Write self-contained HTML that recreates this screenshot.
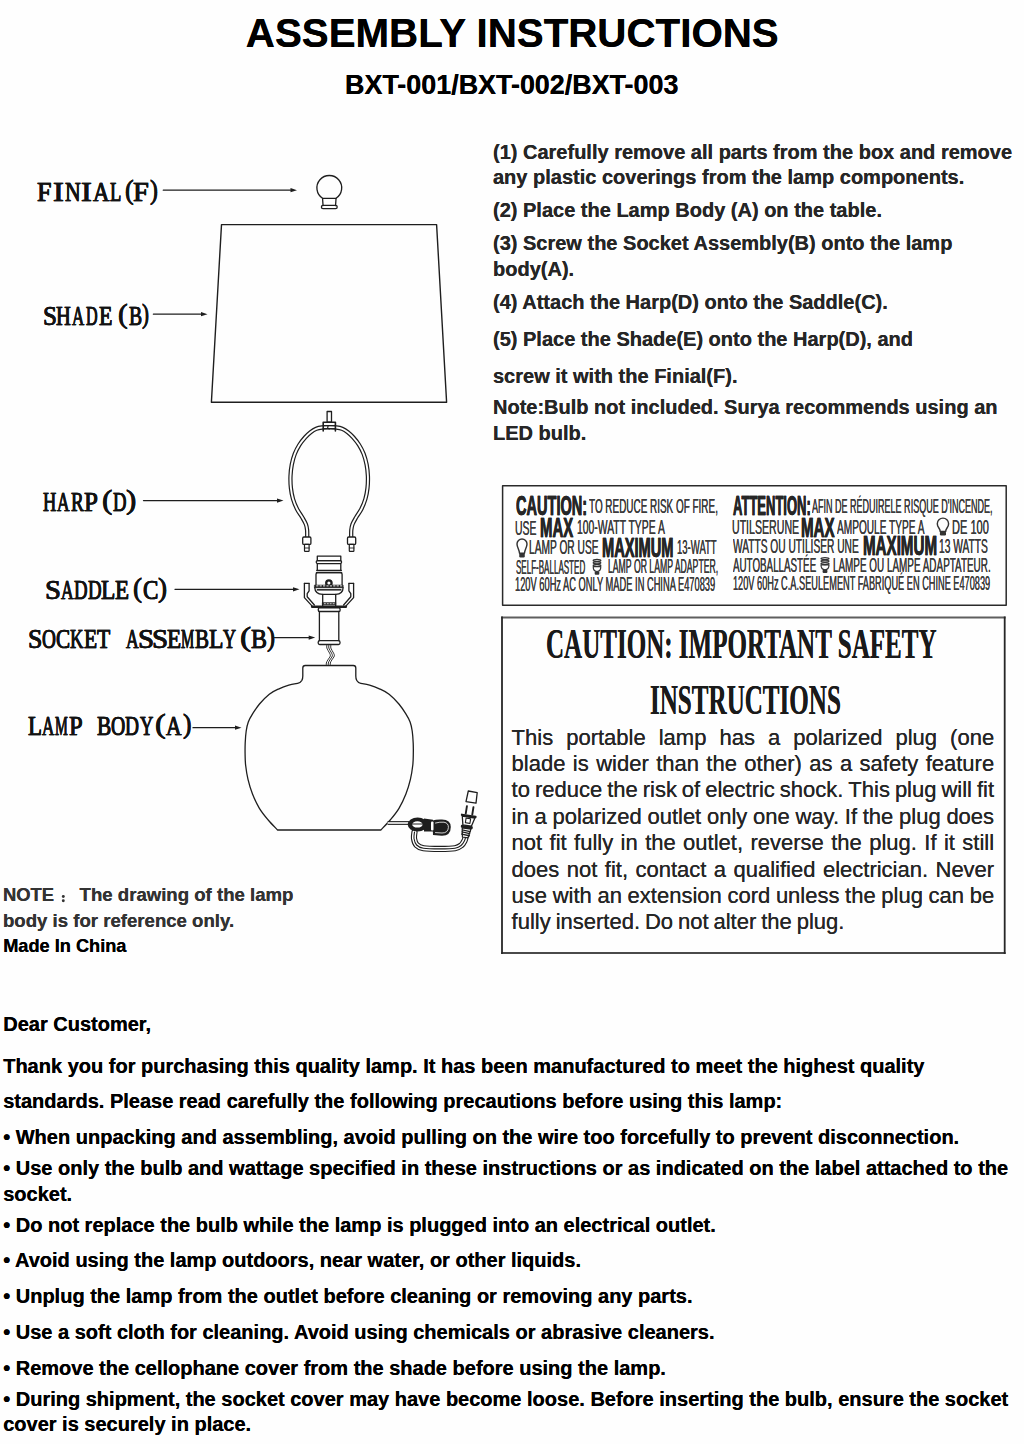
<!DOCTYPE html>
<html><head><meta charset="utf-8"><title>Assembly Instructions</title>
<style>
html,body{margin:0;padding:0;background:#fefefe;}
body{width:1024px;height:1444px;position:relative;overflow:hidden;}
.t,.m,.j{position:absolute;white-space:nowrap;}
.j{display:flex;justify-content:space-between;}
.m i{display:inline-flex;justify-content:center;font-style:normal;}
.m i b{display:inline-block;font-weight:inherit;}
svg{position:absolute;left:0;top:0;}
</style></head><body>
<svg width="1024" height="1444" viewBox="0 0 1024 1444" stroke-linecap="round" stroke-linejoin="round">
<line x1="163.3" y1="190.2" x2="293.0" y2="190.2" stroke="#1e1e1e" stroke-width="1.3" />
<path d="M290.5,188.1 L297.0,190.2 L290.5,192.29999999999998 Z" fill="#1e1e1e"/>
<line x1="153.4" y1="314.2" x2="203.5" y2="314.2" stroke="#1e1e1e" stroke-width="1.3" />
<path d="M201.0,312.09999999999997 L207.5,314.2 L201.0,316.3 Z" fill="#1e1e1e"/>
<line x1="143.5" y1="500.6" x2="279.5" y2="500.6" stroke="#1e1e1e" stroke-width="1.3" />
<path d="M277.0,498.5 L283.5,500.6 L277.0,502.70000000000005 Z" fill="#1e1e1e"/>
<line x1="175.0" y1="589.3" x2="295.5" y2="589.3" stroke="#1e1e1e" stroke-width="1.3" />
<path d="M293.0,587.1999999999999 L299.5,589.3 L293.0,591.4 Z" fill="#1e1e1e"/>
<line x1="274.5" y1="637.6" x2="311.2" y2="637.6" stroke="#1e1e1e" stroke-width="1.3" />
<path d="M308.7,635.5 L315.2,637.6 L308.7,639.7 Z" fill="#1e1e1e"/>
<line x1="193.0" y1="727.7" x2="237.5" y2="727.7" stroke="#1e1e1e" stroke-width="1.3" />
<path d="M235.0,725.6 L241.5,727.7 L235.0,729.8000000000001 Z" fill="#1e1e1e"/>
<path d="M322.55,198.3 A12.4,12.4 0 1,1 336.05,198.3 Z" stroke="#1e1e1e" stroke-width="1.3" fill="none" />
<path d="M322.55,198.3 L323.05,205.6 M336.05,198.3 L335.55,205.6" stroke="#1e1e1e" stroke-width="1.3" fill="none" />
<rect x="321.4" y="205.4" width="15.8" height="3.3" rx="1.6" stroke="#1e1e1e" stroke-width="1.3" fill="none"/>
<path d="M221.5,224.6 L436.6,224.6 L446.6,402.2 L211.4,402.2 Z" stroke="#1e1e1e" stroke-width="1.4" fill="none" />
<path d="M329.20,427.30 C328.00,427.33 324.17,427.25 322.00,427.50 C319.83,427.75 318.10,428.02 316.20,428.80 C314.30,429.58 312.43,430.78 310.60,432.20 C308.77,433.62 307.07,435.20 305.20,437.30 C303.33,439.40 301.13,442.05 299.40,444.80 C297.67,447.55 296.07,450.52 294.80,453.80 C293.53,457.08 292.52,460.80 291.80,464.50 C291.08,468.20 290.65,472.08 290.50,476.00 C290.35,479.92 290.48,484.17 290.90,488.00 C291.32,491.83 291.98,495.50 293.00,499.00 C294.02,502.50 295.45,505.92 297.00,509.00 C298.55,512.08 300.82,514.95 302.30,517.50 C303.78,520.05 305.10,522.22 305.90,524.30 C306.70,526.38 306.88,527.80 307.10,530.00 C307.32,532.20 307.18,536.25 307.20,537.50" stroke="#1e1e1e" stroke-width="4.3" fill="none" />
<path d="M329.20,427.30 C328.00,427.33 324.17,427.25 322.00,427.50 C319.83,427.75 318.10,428.02 316.20,428.80 C314.30,429.58 312.43,430.78 310.60,432.20 C308.77,433.62 307.07,435.20 305.20,437.30 C303.33,439.40 301.13,442.05 299.40,444.80 C297.67,447.55 296.07,450.52 294.80,453.80 C293.53,457.08 292.52,460.80 291.80,464.50 C291.08,468.20 290.65,472.08 290.50,476.00 C290.35,479.92 290.48,484.17 290.90,488.00 C291.32,491.83 291.98,495.50 293.00,499.00 C294.02,502.50 295.45,505.92 297.00,509.00 C298.55,512.08 300.82,514.95 302.30,517.50 C303.78,520.05 305.10,522.22 305.90,524.30 C306.70,526.38 306.88,527.80 307.10,530.00 C307.32,532.20 307.18,536.25 307.20,537.50" stroke="#fff" stroke-width="1.9" fill="none" />
<path d="M329.20,427.30 C330.40,427.33 334.23,427.25 336.40,427.50 C338.57,427.75 340.30,428.02 342.20,428.80 C344.10,429.58 345.97,430.78 347.80,432.20 C349.63,433.62 351.33,435.20 353.20,437.30 C355.07,439.40 357.27,442.05 359.00,444.80 C360.73,447.55 362.33,450.52 363.60,453.80 C364.87,457.08 365.88,460.80 366.60,464.50 C367.32,468.20 367.75,472.08 367.90,476.00 C368.05,479.92 367.92,484.17 367.50,488.00 C367.08,491.83 366.42,495.50 365.40,499.00 C364.38,502.50 362.95,505.92 361.40,509.00 C359.85,512.08 357.58,514.95 356.10,517.50 C354.62,520.05 353.30,522.22 352.50,524.30 C351.70,526.38 351.52,527.80 351.30,530.00 C351.08,532.20 351.22,536.25 351.20,537.50" stroke="#1e1e1e" stroke-width="4.3" fill="none" />
<path d="M329.20,427.30 C330.40,427.33 334.23,427.25 336.40,427.50 C338.57,427.75 340.30,428.02 342.20,428.80 C344.10,429.58 345.97,430.78 347.80,432.20 C349.63,433.62 351.33,435.20 353.20,437.30 C355.07,439.40 357.27,442.05 359.00,444.80 C360.73,447.55 362.33,450.52 363.60,453.80 C364.87,457.08 365.88,460.80 366.60,464.50 C367.32,468.20 367.75,472.08 367.90,476.00 C368.05,479.92 367.92,484.17 367.50,488.00 C367.08,491.83 366.42,495.50 365.40,499.00 C364.38,502.50 362.95,505.92 361.40,509.00 C359.85,512.08 357.58,514.95 356.10,517.50 C354.62,520.05 353.30,522.22 352.50,524.30 C351.70,526.38 351.52,527.80 351.30,530.00 C351.08,532.20 351.22,536.25 351.20,537.50" stroke="#fff" stroke-width="1.9" fill="none" />
<rect x="327.1" y="411.5" width="4.4" height="10.6" rx="0" stroke="#1e1e1e" stroke-width="1.3" fill="none"/>
<path d="M323.2,431 L323.2,422.3 L335.4,422.3 L335.4,431" stroke="#1e1e1e" stroke-width="1.6" fill="none" />
<line x1="323.2" y1="425.6" x2="335.4" y2="425.6" stroke="#1e1e1e" stroke-width="1.0" />
<line x1="323.2" y1="428.6" x2="335.4" y2="428.6" stroke="#1e1e1e" stroke-width="1.0" />
<rect x="302.7" y="537.0" width="8.2" height="7.4" rx="1.2" stroke="#1e1e1e" stroke-width="1.3" fill="#fff"/>
<rect x="304.5" y="544.4" width="4.6" height="6.9" rx="0.6" stroke="#1e1e1e" stroke-width="1.2" fill="#fff"/>
<line x1="304.5" y1="548.0" x2="309.1" y2="548.0" stroke="#1e1e1e" stroke-width="0.9" />
<rect x="347.5" y="537.0" width="8.2" height="7.4" rx="1.2" stroke="#1e1e1e" stroke-width="1.3" fill="#fff"/>
<rect x="349.3" y="544.4" width="4.6" height="6.9" rx="0.6" stroke="#1e1e1e" stroke-width="1.2" fill="#fff"/>
<line x1="349.3" y1="548.0" x2="353.90000000000003" y2="548.0" stroke="#1e1e1e" stroke-width="0.9" />
<rect x="317.3" y="556.1" width="23.5" height="4.5" rx="0" stroke="#1e1e1e" stroke-width="1.3" fill="none"/>
<rect x="316.2" y="560.6" width="25.4" height="3.0" rx="1.5" stroke="#1e1e1e" stroke-width="1.3" fill="none"/>
<path d="M317.3,563.6 L317.3,570.4 M340.8,563.6 L340.8,570.4" stroke="#1e1e1e" stroke-width="1.3" fill="none" />
<line x1="316.8" y1="570.5" x2="341.3" y2="570.5" stroke="#1e1e1e" stroke-width="1.3" />
<line x1="316.4" y1="572.6" x2="341.7" y2="572.6" stroke="#1e1e1e" stroke-width="1.3" />
<path d="M316.0,585.3 L316.0,574.5 Q316.0,572.6 318,572.6 L340.2,572.6 Q342.1,572.6 342.1,574.5 L342.1,585.3" stroke="#1e1e1e" stroke-width="1.3" fill="none" />
<circle cx="328.9" cy="583.1" r="2.7" stroke="#1e1e1e" stroke-width="2.3" fill="#fff"/>
<rect x="314.8" y="585.2" width="28.3" height="2.5" rx="0" stroke="#1e1e1e" stroke-width="0.8" fill="#1e1e1e"/>
<line x1="316.6" y1="585.9" x2="318.0" y2="585.9" stroke="#fff" stroke-width="0.9" />
<line x1="320.0" y1="585.9" x2="321.4" y2="585.9" stroke="#fff" stroke-width="0.9" />
<line x1="323.40000000000003" y1="585.9" x2="324.8" y2="585.9" stroke="#fff" stroke-width="0.9" />
<line x1="326.8" y1="585.9" x2="328.2" y2="585.9" stroke="#fff" stroke-width="0.9" />
<line x1="330.20000000000005" y1="585.9" x2="331.6" y2="585.9" stroke="#fff" stroke-width="0.9" />
<line x1="333.6" y1="585.9" x2="335.0" y2="585.9" stroke="#fff" stroke-width="0.9" />
<line x1="337.0" y1="585.9" x2="338.4" y2="585.9" stroke="#fff" stroke-width="0.9" />
<line x1="340.40000000000003" y1="585.9" x2="341.8" y2="585.9" stroke="#fff" stroke-width="0.9" />
<path d="M314.8,587.7 Q315.0,593.9 322.6,594.4 L335.7,594.4 Q343.0,593.9 343.1,587.7" stroke="#1e1e1e" stroke-width="1.3" fill="none" />
<line x1="317.2" y1="589.6" x2="341.0" y2="589.6" stroke="#1e1e1e" stroke-width="1.0" />
<line x1="317.2" y1="590.4" x2="341.0" y2="590.4" stroke="#1e1e1e" stroke-width="0.6" />
<path d="M322.7,594.4 L322.7,606 M335.7,594.4 L335.7,606" stroke="#1e1e1e" stroke-width="1.3" fill="none" />
<rect x="322.7" y="602.6" width="13.0" height="2.3" rx="0" stroke="#1e1e1e" stroke-width="0.6" fill="#333"/>
<line x1="324.4" y1="603.7" x2="325.4" y2="603.7" stroke="#ddd" stroke-width="0.9" />
<line x1="327.29999999999995" y1="603.7" x2="328.29999999999995" y2="603.7" stroke="#ddd" stroke-width="0.9" />
<line x1="330.2" y1="603.7" x2="331.2" y2="603.7" stroke="#ddd" stroke-width="0.9" />
<line x1="333.09999999999997" y1="603.7" x2="334.09999999999997" y2="603.7" stroke="#ddd" stroke-width="0.9" />
<path d="M304.40,583.30 L304.40,597.60 L312.60,606.60" stroke="#1e1e1e" stroke-width="1.3" fill="none" />
<path d="M309.10,583.30 L309.10,590.80 L307.20,593.60 L307.20,596.80 L314.40,605.00" stroke="#1e1e1e" stroke-width="1.3" fill="none" />
<path d="M353.60,583.30 L353.60,597.60 L345.40,606.60" stroke="#1e1e1e" stroke-width="1.3" fill="none" />
<path d="M348.90,583.30 L348.90,590.80 L350.80,593.60 L350.80,596.80 L343.60,605.00" stroke="#1e1e1e" stroke-width="1.3" fill="none" />
<line x1="304.4" y1="583.3" x2="309.1" y2="583.3" stroke="#1e1e1e" stroke-width="1.3" />
<line x1="349.0" y1="583.3" x2="353.6" y2="583.3" stroke="#1e1e1e" stroke-width="1.3" />
<line x1="312.2" y1="606.7" x2="345.8" y2="606.7" stroke="#1e1e1e" stroke-width="2.6" />
<rect x="318.3" y="607.9" width="21.8" height="3.6" rx="1.2" stroke="#1e1e1e" stroke-width="1.3" fill="none"/>
<path d="M319.4,611.5 L319.4,640.7 M338.8,611.5 L338.8,640.7" stroke="#1e1e1e" stroke-width="1.3" fill="none" />
<rect x="318.2" y="640.7" width="21.8" height="3.8" rx="1.5" stroke="#1e1e1e" stroke-width="1.3" fill="none"/>
<path d="M327.00,644.50 C326.97,645.08 326.38,646.58 326.80,648.00 C327.22,649.42 328.92,651.67 329.50,653.00 C330.08,654.33 330.58,654.83 330.30,656.00 C330.02,657.17 328.47,658.83 327.80,660.00 C327.13,661.17 326.52,662.08 326.30,663.00 C326.08,663.92 326.47,665.08 326.50,665.50" stroke="#1e1e1e" stroke-width="0.9" fill="none" />
<path d="M329.00,644.50 C328.97,645.08 328.38,646.58 328.80,648.00 C329.22,649.42 330.92,651.67 331.50,653.00 C332.08,654.33 332.58,654.83 332.30,656.00 C332.02,657.17 330.47,658.83 329.80,660.00 C329.13,661.17 328.52,662.08 328.30,663.00 C328.08,663.92 328.47,665.08 328.50,665.50" stroke="#1e1e1e" stroke-width="0.9" fill="none" />
<path d="M331.00,644.50 C330.97,645.08 330.38,646.58 330.80,648.00 C331.22,649.42 332.92,651.67 333.50,653.00 C334.08,654.33 334.58,654.83 334.30,656.00 C334.02,657.17 332.47,658.83 331.80,660.00 C331.13,661.17 330.52,662.08 330.30,663.00 C330.08,663.92 330.47,665.08 330.50,665.50" stroke="#1e1e1e" stroke-width="0.9" fill="none" />
<path d="M277.6,830.0 C276.03,828.33 271.23,823.62 268.20,820.00 C265.17,816.38 262.02,812.63 259.40,808.30 C256.78,803.97 254.40,798.83 252.50,794.00 C250.60,789.17 249.15,784.13 248.00,779.30 C246.85,774.47 246.08,769.22 245.60,765.00 C245.12,760.78 245.17,757.67 245.10,754.00 C245.03,750.33 245.02,746.83 245.20,743.00 C245.38,739.17 245.68,734.50 246.20,731.00 C246.72,727.50 247.22,724.88 248.30,722.00 C249.38,719.12 250.83,716.70 252.70,713.70 C254.57,710.70 256.73,707.25 259.50,704.00 C262.27,700.75 266.05,696.73 269.30,694.20 C272.55,691.67 275.75,690.30 279.00,688.80 C282.25,687.30 285.70,686.10 288.80,685.20 C291.90,684.30 296.13,683.70 297.60,683.40 Q300.2,682.9 301.9,680.3 Q302.8,678.6 302.8,676 L302.8,668 Q302.8,665.5 305.3,665.5 L353.3,665.5 Q355.8,665.5 355.8,668 L355.8,676 Q355.8,678.6 356.7,680.3 Q358.4,682.9 360.8,683.4 C362.27,683.70 366.50,684.30 369.60,685.20 C372.70,686.10 376.15,687.30 379.40,688.80 C382.65,690.30 385.85,691.67 389.10,694.20 C392.35,696.73 396.13,700.75 398.90,704.00 C401.67,707.25 403.83,710.70 405.70,713.70 C407.57,716.70 409.02,719.12 410.10,722.00 C411.18,724.88 411.68,727.50 412.20,731.00 C412.72,734.50 413.02,739.17 413.20,743.00 C413.38,746.83 413.37,750.33 413.30,754.00 C413.23,757.67 413.28,760.78 412.80,765.00 C412.32,769.22 411.55,774.47 410.40,779.30 C409.25,784.13 407.80,789.17 405.90,794.00 C404.00,798.83 401.62,803.97 399.00,808.30 C396.38,812.63 393.23,816.38 390.20,820.00 C387.17,823.62 382.37,828.33 380.80,830.00 Z" stroke="#1e1e1e" stroke-width="1.3" fill="none" />
<path d="M387.6,823.0 L409,823.0" stroke="#1e1e1e" stroke-width="3.8" fill="none" stroke-linecap="butt"/>
<path d="M387.6,823.0 L409,823.0" stroke="#fff" stroke-width="1.6" fill="none" stroke-linecap="butt"/>
<path d="M414.50,832.00 C414.42,833.08 413.65,836.33 414.00,838.50 C414.35,840.67 415.02,843.38 416.60,845.00 C418.18,846.62 419.60,847.55 423.50,848.20 C427.40,848.85 434.75,848.90 440.00,848.90 C445.25,848.90 451.45,848.80 455.00,848.20 C458.55,847.60 459.70,846.58 461.30,845.30 C462.90,844.02 463.88,841.88 464.60,840.50 C465.32,839.12 465.43,837.58 465.60,837.00" stroke="#1e1e1e" stroke-width="6.2" fill="none" />
<path d="M414.50,832.00 C414.42,833.08 413.65,836.33 414.00,838.50 C414.35,840.67 415.02,843.38 416.60,845.00 C418.18,846.62 419.60,847.55 423.50,848.20 C427.40,848.85 434.75,848.90 440.00,848.90 C445.25,848.90 451.45,848.80 455.00,848.20 C458.55,847.60 459.70,846.58 461.30,845.30 C462.90,844.02 463.88,841.88 464.60,840.50 C465.32,839.12 465.43,837.58 465.60,837.00" stroke="#fff" stroke-width="4.0" fill="none" />
<path d="M414.50,832.00 C414.42,833.08 413.65,836.33 414.00,838.50 C414.35,840.67 415.02,843.38 416.60,845.00 C418.18,846.62 419.60,847.55 423.50,848.20 C427.40,848.85 434.75,848.90 440.00,848.90 C445.25,848.90 451.45,848.80 455.00,848.20 C458.55,847.60 459.70,846.58 461.30,845.30 C462.90,844.02 463.88,841.88 464.60,840.50 C465.32,839.12 465.43,837.58 465.60,837.00" stroke="#1e1e1e" stroke-width="1.1" fill="none" />
<ellipse cx="417.6" cy="824.5" rx="9.9" ry="7.1" fill="#1e1e1e"/>
<ellipse cx="417.4" cy="824.4" rx="5.2" ry="3.2" fill="#fff"/>
<line x1="411.5" y1="824.0" x2="423.5" y2="824.0" stroke="#1e1e1e" stroke-width="1.2" />
<path d="M424,818.6 L433,819.8 L433,831.5 L424,831.5 Z" stroke="none" stroke-width="0" fill="#1e1e1e" />
<path d="M432.5,820.5 Q436,819.4 442,819.6 Q450.8,820 450.8,827 Q450.8,835.8 442,835.8 L433,835 Z" stroke="none" stroke-width="0" fill="#1e1e1e" />
<path d="M435.5,823 Q440,821.8 444,822.2 Q448.6,823 448.4,827.5 Q448,833 442,833 L435.5,832.6" stroke="#fff" stroke-width="0.8" fill="none" />
<rect x="431.0" y="821.6" width="2.5" height="8.9" rx="1" stroke="none" stroke-width="0" fill="#fff"/>
<g transform="rotate(9 467.6 822)">
<path d="M463.20000000000005,828.6 L472.0,828.6 L470.40000000000003,837.6 L464.8,837.6 Z" stroke="#1e1e1e" stroke-width="1.2" fill="#fff" />
<line x1="463.6" y1="830.6" x2="471.5" y2="831.1" stroke="#1e1e1e" stroke-width="1.3" />
<line x1="463.6" y1="832.7" x2="471.5" y2="833.2" stroke="#1e1e1e" stroke-width="1.3" />
<line x1="463.6" y1="834.8" x2="471.5" y2="835.3" stroke="#1e1e1e" stroke-width="1.3" />
<rect x="461.6" y="825.6" width="12.0" height="2.9" rx="1.0" stroke="none" stroke-width="0" fill="#1e1e1e"/>
<path d="M461.40000000000003,816.9 L474.20000000000005,816.9 L472.0,825.6 L463.40000000000003,825.6 Z" stroke="#1e1e1e" stroke-width="1.3" fill="#fff" />
<rect x="465.5" y="818.4" width="4.6" height="4.6" rx="0" stroke="#1e1e1e" stroke-width="1.1" fill="#fff"/>
<rect x="459.8" y="814.6" width="15.9" height="2.4" rx="1.0" stroke="none" stroke-width="0" fill="#1e1e1e"/>
<rect x="463.5" y="805.6" width="1.9" height="9.2" rx="0.8" stroke="none" stroke-width="0" fill="#1e1e1e"/>
<rect x="470.1" y="805.6" width="1.9" height="9.2" rx="0.8" stroke="none" stroke-width="0" fill="#1e1e1e"/>
</g>
<path d="M468.3,791.0 L477.2,792.7 L476.0,803.1 L466.0,801.6 Z" stroke="#1e1e1e" stroke-width="1.3" fill="none" />
<circle cx="63.3" cy="896.5" r="1.45" fill="#333"/>
<circle cx="63.3" cy="900.7" r="1.45" fill="#333"/>
<rect x="502.6" y="485.8" width="503.6" height="119.4" rx="0" stroke="#2a2a2a" stroke-width="1.5" fill="none"/>
<line x1="501.2" y1="617.5" x2="1005.6" y2="617.5" stroke="#5e5e5e" stroke-width="2.2" stroke-linecap="butt"/>
<line x1="501.2" y1="953.0" x2="1005.6" y2="953.0" stroke="#4a4a4a" stroke-width="2.2" stroke-linecap="butt"/>
<line x1="502.0" y1="616.4" x2="502.0" y2="954.1" stroke="#262626" stroke-width="1.8" stroke-linecap="butt"/>
<line x1="1004.7" y1="616.4" x2="1004.7" y2="954.1" stroke="#262626" stroke-width="1.8" stroke-linecap="butt"/>
<path d="M519.54,553.30 C519.54,549.86 517.00,547.50 517.00,544.00 A5.00,5.00 0 1,1 527.00,544.00 C527.00,547.50 524.46,549.86 524.46,553.30 Z" stroke="#333" stroke-width="1.45" fill="none" />
<rect x="519.236" y="553.298" width="5.528" height="4.202" rx="1.2" stroke="none" stroke-width="0" fill="#333"/>
<path d="M940.20,531.46 C940.20,528.24 937.30,527.71 937.30,523.75 A5.65,5.65 0 1,1 948.60,523.75 C948.60,527.71 945.70,528.24 945.70,531.46 Z" stroke="#333" stroke-width="1.45" fill="none" />
<rect x="939.9000000000001" y="531.462" width="6.1" height="3.9379999999999997" rx="1.2" stroke="none" stroke-width="0" fill="#333"/>
<ellipse cx="597.00" cy="560.40" rx="3.86" ry="0.98" fill="none" stroke="#333" stroke-width="1.2"/>
<ellipse cx="597.00" cy="562.86" rx="3.86" ry="0.98" fill="none" stroke="#333" stroke-width="1.2"/>
<ellipse cx="597.00" cy="565.32" rx="3.86" ry="0.98" fill="none" stroke="#333" stroke-width="1.2"/>
<path d="M593.20,566.60 L600.80,566.60 C600.80,571.19 598.84,571.52 597.00,571.52 C595.16,571.52 593.20,571.19 593.20,566.60 Z" stroke="#333" stroke-width="1.2" fill="none" />
<rect x="594.7" y="571.52" width="4.6" height="3.28" rx="1" stroke="none" stroke-width="0" fill="#333"/>
<ellipse cx="825.00" cy="558.60" rx="4.03" ry="0.99" fill="none" stroke="#333" stroke-width="1.2"/>
<ellipse cx="825.00" cy="561.08" rx="4.03" ry="0.99" fill="none" stroke="#333" stroke-width="1.2"/>
<ellipse cx="825.00" cy="563.55" rx="4.03" ry="0.99" fill="none" stroke="#333" stroke-width="1.2"/>
<path d="M821.00,564.85 L829.00,564.85 C829.00,569.47 826.92,569.80 825.00,569.80 C823.08,569.80 821.00,569.47 821.00,564.85 Z" stroke="#333" stroke-width="1.2" fill="none" />
<rect x="822.6" y="569.8000000000001" width="4.8" height="3.3000000000000003" rx="1" stroke="none" stroke-width="0" fill="#333"/>
</svg>
<div class="t" style="left:245.82px;top:14.18px;font-size:40.3px;line-height:40.3px;font-family:'Liberation Sans';font-weight:bold;color:#000;">ASSEMBLY INSTRUCTIONS</div>
<div class="t" style="left:345.07px;top:71.62px;font-size:26.9px;line-height:26.9px;font-family:'Liberation Sans';font-weight:bold;color:#000;">BXT-001/BXT-002/BXT-003</div>
<div class="t" style="left:493.00px;top:142.27px;font-size:20px;line-height:20px;font-family:'Liberation Sans';font-weight:bold;color:#262626;">(1) Carefully remove all parts from the box and remove</div>
<div class="t" style="left:493.00px;top:167.07px;font-size:20px;line-height:20px;font-family:'Liberation Sans';font-weight:bold;color:#262626;">any plastic coverings from the lamp components.</div>
<div class="t" style="left:493.00px;top:200.47px;font-size:20px;line-height:20px;font-family:'Liberation Sans';font-weight:bold;color:#262626;">(2) Place the Lamp Body (A) on the table.</div>
<div class="t" style="left:493.00px;top:233.07px;font-size:20px;line-height:20px;font-family:'Liberation Sans';font-weight:bold;color:#262626;">(3) Screw the Socket Assembly(B) onto the lamp</div>
<div class="t" style="left:493.00px;top:258.57px;font-size:20px;line-height:20px;font-family:'Liberation Sans';font-weight:bold;color:#262626;">body(A).</div>
<div class="t" style="left:493.00px;top:291.87px;font-size:20px;line-height:20px;font-family:'Liberation Sans';font-weight:bold;color:#262626;">(4) Attach the Harp(D) onto the Saddle(C).</div>
<div class="t" style="left:493.00px;top:329.07px;font-size:20px;line-height:20px;font-family:'Liberation Sans';font-weight:bold;color:#262626;">(5) Place the Shade(E) onto the Harp(D), and</div>
<div class="t" style="left:493.00px;top:366.17px;font-size:20px;line-height:20px;font-family:'Liberation Sans';font-weight:bold;color:#262626;">screw it with the Finial(F).</div>
<div class="t" style="left:493.00px;top:397.27px;font-size:20px;line-height:20px;font-family:'Liberation Sans';font-weight:bold;color:#262626;">Note:Bulb not included. Surya recommends using an</div>
<div class="t" style="left:493.00px;top:423.27px;font-size:20px;line-height:20px;font-family:'Liberation Sans';font-weight:bold;color:#262626;">LED bulb.</div>
<div class="t" style="left:37.30px;top:178.15px;font-size:28px;line-height:28px;font-family:'Liberation Serif';font-weight:normal;color:#121212;transform:scaleX(0.9306);transform-origin:0 0;-webkit-text-stroke:0.65px #121212;">F</div>
<div class="t" style="left:52.88px;top:178.15px;font-size:28px;line-height:28px;font-family:'Liberation Serif';font-weight:normal;color:#121212;transform:scaleX(1.1599);transform-origin:0 0;-webkit-text-stroke:0.65px #121212;">I</div>
<div class="t" style="left:64.52px;top:178.15px;font-size:28px;line-height:28px;font-family:'Liberation Serif';font-weight:normal;color:#121212;transform:scaleX(0.7778);transform-origin:0 0;-webkit-text-stroke:0.65px #121212;">N</div>
<div class="t" style="left:80.58px;top:178.15px;font-size:28px;line-height:28px;font-family:'Liberation Serif';font-weight:normal;color:#121212;transform:scaleX(1.1599);transform-origin:0 0;-webkit-text-stroke:0.65px #121212;">I</div>
<div class="t" style="left:92.53px;top:178.15px;font-size:28px;line-height:28px;font-family:'Liberation Serif';font-weight:normal;color:#121212;transform:scaleX(0.8104);transform-origin:0 0;-webkit-text-stroke:0.65px #121212;">A</div>
<div class="t" style="left:109.51px;top:178.15px;font-size:28px;line-height:28px;font-family:'Liberation Serif';font-weight:normal;color:#121212;transform:scaleX(0.6637);transform-origin:0 0;-webkit-text-stroke:0.65px #121212;">L</div>
<div class="t" style="left:124.55px;top:176.15px;font-size:28px;line-height:28px;font-family:'Liberation Serif';font-weight:normal;color:#121212;transform:scaleX(0.9317);transform-origin:0 0;-webkit-text-stroke:0.5px #121212;">(</div>
<div class="t" style="left:133.23px;top:178.15px;font-size:28px;line-height:28px;font-family:'Liberation Serif';font-weight:normal;color:#121212;transform:scaleX(1.0179);transform-origin:0 0;-webkit-text-stroke:0.65px #121212;">F</div>
<div class="t" style="left:150.13px;top:176.15px;font-size:28px;line-height:28px;font-family:'Liberation Serif';font-weight:normal;color:#121212;transform:scaleX(0.8482);transform-origin:0 0;-webkit-text-stroke:0.5px #121212;">)</div>
<div class="t" style="left:42.77px;top:302.35px;font-size:28px;line-height:28px;font-family:'Liberation Serif';font-weight:normal;color:#121212;transform:scaleX(0.8944);transform-origin:0 0;-webkit-text-stroke:0.65px #121212;">S</div>
<div class="t" style="left:56.46px;top:302.35px;font-size:28px;line-height:28px;font-family:'Liberation Serif';font-weight:normal;color:#121212;transform:scaleX(0.7314);transform-origin:0 0;-webkit-text-stroke:0.65px #121212;">H</div>
<div class="t" style="left:72.09px;top:302.35px;font-size:28px;line-height:28px;font-family:'Liberation Serif';font-weight:normal;color:#121212;transform:scaleX(0.6028);transform-origin:0 0;-webkit-text-stroke:0.65px #121212;">A</div>
<div class="t" style="left:86.19px;top:302.35px;font-size:28px;line-height:28px;font-family:'Liberation Serif';font-weight:normal;color:#121212;transform:scaleX(0.5740);transform-origin:0 0;-webkit-text-stroke:0.65px #121212;">D</div>
<div class="t" style="left:98.72px;top:302.35px;font-size:28px;line-height:28px;font-family:'Liberation Serif';font-weight:normal;color:#121212;transform:scaleX(0.7851);transform-origin:0 0;-webkit-text-stroke:0.65px #121212;">E</div>
<div class="t" style="left:118.22px;top:300.35px;font-size:28px;line-height:28px;font-family:'Liberation Serif';font-weight:normal;color:#121212;transform:scaleX(1.0429);transform-origin:0 0;-webkit-text-stroke:0.5px #121212;">(</div>
<div class="t" style="left:128.98px;top:302.35px;font-size:28px;line-height:28px;font-family:'Liberation Serif';font-weight:normal;color:#121212;transform:scaleX(0.7029);transform-origin:0 0;-webkit-text-stroke:0.65px #121212;">B</div>
<div class="t" style="left:142.42px;top:300.35px;font-size:28px;line-height:28px;font-family:'Liberation Serif';font-weight:normal;color:#121212;transform:scaleX(0.7509);transform-origin:0 0;-webkit-text-stroke:0.5px #121212;">)</div>
<div class="t" style="left:43.22px;top:488.35px;font-size:28px;line-height:28px;font-family:'Liberation Serif';font-weight:normal;color:#121212;transform:scaleX(0.6561);transform-origin:0 0;-webkit-text-stroke:0.65px #121212;">H</div>
<div class="t" style="left:57.28px;top:488.35px;font-size:28px;line-height:28px;font-family:'Liberation Serif';font-weight:normal;color:#121212;transform:scaleX(0.6180);transform-origin:0 0;-webkit-text-stroke:0.65px #121212;">A</div>
<div class="t" style="left:70.60px;top:488.35px;font-size:28px;line-height:28px;font-family:'Liberation Serif';font-weight:normal;color:#121212;transform:scaleX(0.6843);transform-origin:0 0;-webkit-text-stroke:0.65px #121212;">R</div>
<div class="t" style="left:84.13px;top:488.35px;font-size:28px;line-height:28px;font-family:'Liberation Serif';font-weight:normal;color:#121212;transform:scaleX(0.8941);transform-origin:0 0;-webkit-text-stroke:0.65px #121212;">P</div>
<div class="t" style="left:102.33px;top:486.35px;font-size:28px;line-height:28px;font-family:'Liberation Serif';font-weight:normal;color:#121212;transform:scaleX(1.1124);transform-origin:0 0;-webkit-text-stroke:0.5px #121212;">(</div>
<div class="t" style="left:112.51px;top:488.35px;font-size:28px;line-height:28px;font-family:'Liberation Serif';font-weight:normal;color:#121212;transform:scaleX(0.6669);transform-origin:0 0;-webkit-text-stroke:0.65px #121212;">D</div>
<div class="t" style="left:126.10px;top:486.35px;font-size:28px;line-height:28px;font-family:'Liberation Serif';font-weight:normal;color:#121212;transform:scaleX(1.1124);transform-origin:0 0;-webkit-text-stroke:0.5px #121212;">)</div>
<div class="t" style="left:45.13px;top:576.45px;font-size:28px;line-height:28px;font-family:'Liberation Serif';font-weight:normal;color:#121212;transform:scaleX(1.0254);transform-origin:0 0;-webkit-text-stroke:0.65px #121212;">S</div>
<div class="t" style="left:60.65px;top:576.45px;font-size:28px;line-height:28px;font-family:'Liberation Serif';font-weight:normal;color:#121212;transform:scaleX(0.6213);transform-origin:0 0;-webkit-text-stroke:0.65px #121212;">A</div>
<div class="t" style="left:74.04px;top:576.45px;font-size:28px;line-height:28px;font-family:'Liberation Serif';font-weight:normal;color:#121212;transform:scaleX(0.6706);transform-origin:0 0;-webkit-text-stroke:0.65px #121212;">D</div>
<div class="t" style="left:87.81px;top:576.45px;font-size:28px;line-height:28px;font-family:'Liberation Serif';font-weight:normal;color:#121212;transform:scaleX(0.6706);transform-origin:0 0;-webkit-text-stroke:0.65px #121212;">D</div>
<div class="t" style="left:101.44px;top:576.45px;font-size:28px;line-height:28px;font-family:'Liberation Serif';font-weight:normal;color:#121212;transform:scaleX(0.8393);transform-origin:0 0;-webkit-text-stroke:0.65px #121212;">L</div>
<div class="t" style="left:115.22px;top:576.45px;font-size:28px;line-height:28px;font-family:'Liberation Serif';font-weight:normal;color:#121212;transform:scaleX(0.8231);transform-origin:0 0;-webkit-text-stroke:0.65px #121212;">E</div>
<div class="t" style="left:133.40px;top:574.45px;font-size:28px;line-height:28px;font-family:'Liberation Serif';font-weight:normal;color:#121212;transform:scaleX(0.9734);transform-origin:0 0;-webkit-text-stroke:0.5px #121212;">(</div>
<div class="t" style="left:142.90px;top:576.45px;font-size:28px;line-height:28px;font-family:'Liberation Serif';font-weight:normal;color:#121212;transform:scaleX(0.8259);transform-origin:0 0;-webkit-text-stroke:0.65px #121212;">C</div>
<div class="t" style="left:157.82px;top:574.45px;font-size:28px;line-height:28px;font-family:'Liberation Serif';font-weight:normal;color:#121212;transform:scaleX(0.9734);transform-origin:0 0;-webkit-text-stroke:0.5px #121212;">)</div>
<div class="t" style="left:27.73px;top:625.15px;font-size:28px;line-height:28px;font-family:'Liberation Serif';font-weight:normal;color:#121212;transform:scaleX(0.9195);transform-origin:0 0;-webkit-text-stroke:0.65px #121212;">S</div>
<div class="t" style="left:42.16px;top:625.15px;font-size:28px;line-height:28px;font-family:'Liberation Serif';font-weight:normal;color:#121212;transform:scaleX(0.6862);transform-origin:0 0;-webkit-text-stroke:0.65px #121212;">O</div>
<div class="t" style="left:55.88px;top:625.15px;font-size:28px;line-height:28px;font-family:'Liberation Serif';font-weight:normal;color:#121212;transform:scaleX(0.7571);transform-origin:0 0;-webkit-text-stroke:0.65px #121212;">C</div>
<div class="t" style="left:69.61px;top:625.15px;font-size:28px;line-height:28px;font-family:'Liberation Serif';font-weight:normal;color:#121212;transform:scaleX(0.6640);transform-origin:0 0;-webkit-text-stroke:0.65px #121212;">K</div>
<div class="t" style="left:83.73px;top:625.15px;font-size:28px;line-height:28px;font-family:'Liberation Serif';font-weight:normal;color:#121212;transform:scaleX(0.7717);transform-origin:0 0;-webkit-text-stroke:0.65px #121212;">E</div>
<div class="t" style="left:96.76px;top:625.15px;font-size:28px;line-height:28px;font-family:'Liberation Serif';font-weight:normal;color:#121212;transform:scaleX(0.7748);transform-origin:0 0;-webkit-text-stroke:0.65px #121212;">T</div>
<div class="t" style="left:126.08px;top:625.15px;font-size:28px;line-height:28px;font-family:'Liberation Serif';font-weight:normal;color:#121212;transform:scaleX(0.6262);transform-origin:0 0;-webkit-text-stroke:0.65px #121212;">A</div>
<div class="t" style="left:138.18px;top:625.15px;font-size:28px;line-height:28px;font-family:'Liberation Serif';font-weight:normal;color:#121212;transform:scaleX(1.0334);transform-origin:0 0;-webkit-text-stroke:0.65px #121212;">S</div>
<div class="t" style="left:152.04px;top:625.15px;font-size:28px;line-height:28px;font-family:'Liberation Serif';font-weight:normal;color:#121212;transform:scaleX(1.0334);transform-origin:0 0;-webkit-text-stroke:0.65px #121212;">S</div>
<div class="t" style="left:167.17px;top:625.15px;font-size:28px;line-height:28px;font-family:'Liberation Serif';font-weight:normal;color:#121212;transform:scaleX(0.8296);transform-origin:0 0;-webkit-text-stroke:0.65px #121212;">E</div>
<div class="t" style="left:181.27px;top:625.15px;font-size:28px;line-height:28px;font-family:'Liberation Serif';font-weight:normal;color:#121212;transform:scaleX(0.5313);transform-origin:0 0;-webkit-text-stroke:0.65px #121212;">M</div>
<div class="t" style="left:194.96px;top:625.15px;font-size:28px;line-height:28px;font-family:'Liberation Serif';font-weight:normal;color:#121212;transform:scaleX(0.7492);transform-origin:0 0;-webkit-text-stroke:0.65px #121212;">B</div>
<div class="t" style="left:208.74px;top:625.15px;font-size:28px;line-height:28px;font-family:'Liberation Serif';font-weight:normal;color:#121212;transform:scaleX(0.8459);transform-origin:0 0;-webkit-text-stroke:0.65px #121212;">L</div>
<div class="t" style="left:223.08px;top:625.15px;font-size:28px;line-height:28px;font-family:'Liberation Serif';font-weight:normal;color:#121212;transform:scaleX(0.6440);transform-origin:0 0;-webkit-text-stroke:0.65px #121212;">Y</div>
<div class="t" style="left:239.63px;top:623.15px;font-size:28px;line-height:28px;font-family:'Liberation Serif';font-weight:normal;color:#121212;transform:scaleX(1.1959);transform-origin:0 0;-webkit-text-stroke:0.5px #121212;">(</div>
<div class="t" style="left:250.96px;top:625.15px;font-size:28px;line-height:28px;font-family:'Liberation Serif';font-weight:normal;color:#121212;transform:scaleX(0.8544);transform-origin:0 0;-webkit-text-stroke:0.65px #121212;">B</div>
<div class="t" style="left:266.92px;top:623.15px;font-size:28px;line-height:28px;font-family:'Liberation Serif';font-weight:normal;color:#121212;transform:scaleX(0.8621);transform-origin:0 0;-webkit-text-stroke:0.5px #121212;">)</div>
<div class="t" style="left:28.29px;top:711.95px;font-size:28px;line-height:28px;font-family:'Liberation Serif';font-weight:normal;color:#121212;transform:scaleX(0.8194);transform-origin:0 0;-webkit-text-stroke:0.65px #121212;">L</div>
<div class="t" style="left:42.26px;top:711.95px;font-size:28px;line-height:28px;font-family:'Liberation Serif';font-weight:normal;color:#121212;transform:scaleX(0.6066);transform-origin:0 0;-webkit-text-stroke:0.65px #121212;">A</div>
<div class="t" style="left:55.48px;top:711.95px;font-size:28px;line-height:28px;font-family:'Liberation Serif';font-weight:normal;color:#121212;transform:scaleX(0.5146);transform-origin:0 0;-webkit-text-stroke:0.65px #121212;">M</div>
<div class="t" style="left:68.67px;top:711.95px;font-size:28px;line-height:28px;font-family:'Liberation Serif';font-weight:normal;color:#121212;transform:scaleX(0.8776);transform-origin:0 0;-webkit-text-stroke:0.65px #121212;">P</div>
<div class="t" style="left:97.13px;top:711.95px;font-size:28px;line-height:28px;font-family:'Liberation Serif';font-weight:normal;color:#121212;transform:scaleX(0.7651);transform-origin:0 0;-webkit-text-stroke:0.65px #121212;">B</div>
<div class="t" style="left:111.07px;top:711.95px;font-size:28px;line-height:28px;font-family:'Liberation Serif';font-weight:normal;color:#121212;transform:scaleX(0.7044);transform-origin:0 0;-webkit-text-stroke:0.65px #121212;">O</div>
<div class="t" style="left:125.44px;top:711.95px;font-size:28px;line-height:28px;font-family:'Liberation Serif';font-weight:normal;color:#121212;transform:scaleX(0.6902);transform-origin:0 0;-webkit-text-stroke:0.65px #121212;">D</div>
<div class="t" style="left:139.92px;top:711.95px;font-size:28px;line-height:28px;font-family:'Liberation Serif';font-weight:normal;color:#121212;transform:scaleX(0.6577);transform-origin:0 0;-webkit-text-stroke:0.65px #121212;">Y</div>
<div class="t" style="left:155.38px;top:709.95px;font-size:28px;line-height:28px;font-family:'Liberation Serif';font-weight:normal;color:#121212;transform:scaleX(1.1542);transform-origin:0 0;-webkit-text-stroke:0.5px #121212;">(</div>
<div class="t" style="left:166.04px;top:711.95px;font-size:28px;line-height:28px;font-family:'Liberation Serif';font-weight:normal;color:#121212;transform:scaleX(0.7649);transform-origin:0 0;-webkit-text-stroke:0.65px #121212;">A</div>
<div class="t" style="left:182.57px;top:709.95px;font-size:28px;line-height:28px;font-family:'Liberation Serif';font-weight:normal;color:#121212;transform:scaleX(0.9178);transform-origin:0 0;-webkit-text-stroke:0.5px #121212;">)</div>
<div class="t" style="left:3.00px;top:886.32px;font-size:18.4px;line-height:18.4px;font-family:'Liberation Sans';font-weight:bold;color:#333;">NOTE</div>
<div class="t" style="left:79.59px;top:886.15px;font-size:18.6px;line-height:18.6px;font-family:'Liberation Sans';font-weight:bold;color:#333;">The drawing of the lamp</div>
<div class="t" style="left:3.00px;top:911.85px;font-size:18.6px;line-height:18.6px;font-family:'Liberation Sans';font-weight:bold;color:#333;">body is for reference only.</div>
<div class="t" style="left:3.20px;top:937.39px;font-size:18.2px;line-height:18.2px;font-family:'Liberation Sans';font-weight:bold;color:#000;">Made In China</div>
<div class="t" style="left:3.20px;top:1013.57px;font-size:20px;line-height:20px;font-family:'Liberation Sans';font-weight:bold;color:#000;">Dear Customer,</div>
<div class="t" style="left:3.20px;top:1055.97px;font-size:20px;line-height:20px;font-family:'Liberation Sans';font-weight:bold;color:#000;">Thank you for purchasing this quality lamp. It has been manufactured to meet the highest quality</div>
<div class="t" style="left:3.20px;top:1090.77px;font-size:20px;line-height:20px;font-family:'Liberation Sans';font-weight:bold;color:#000;">standards. Please read carefully the following precautions before using this lamp:</div>
<div class="t" style="left:3.20px;top:1127.07px;font-size:20px;line-height:20px;font-family:'Liberation Sans';font-weight:bold;color:#000;">• When unpacking and assembling, avoid pulling on the wire too forcefully to prevent disconnection.</div>
<div class="t" style="left:3.20px;top:1158.17px;font-size:20px;line-height:20px;font-family:'Liberation Sans';font-weight:bold;color:#000;">• Use only the bulb and wattage specified in these instructions or as indicated on the label attached to the</div>
<div class="t" style="left:3.20px;top:1183.97px;font-size:20px;line-height:20px;font-family:'Liberation Sans';font-weight:bold;color:#000;">socket.</div>
<div class="t" style="left:3.20px;top:1214.97px;font-size:20px;line-height:20px;font-family:'Liberation Sans';font-weight:bold;color:#000;">• Do not replace the bulb while the lamp is plugged into an electrical outlet.</div>
<div class="t" style="left:3.20px;top:1250.17px;font-size:20px;line-height:20px;font-family:'Liberation Sans';font-weight:bold;color:#000;">• Avoid using the lamp outdoors, near water, or other liquids.</div>
<div class="t" style="left:3.20px;top:1286.17px;font-size:20px;line-height:20px;font-family:'Liberation Sans';font-weight:bold;color:#000;">• Unplug the lamp from the outlet before cleaning or removing any parts.</div>
<div class="t" style="left:3.20px;top:1321.97px;font-size:20px;line-height:20px;font-family:'Liberation Sans';font-weight:bold;color:#000;">• Use a soft cloth for cleaning. Avoid using chemicals or abrasive cleaners.</div>
<div class="t" style="left:3.20px;top:1357.67px;font-size:20px;line-height:20px;font-family:'Liberation Sans';font-weight:bold;color:#000;">• Remove the cellophane cover from the shade before using the lamp.</div>
<div class="t" style="left:3.20px;top:1388.77px;font-size:20px;line-height:20px;font-family:'Liberation Sans';font-weight:bold;color:#000;">• During shipment, the socket cover may have become loose. Before inserting the bulb, ensure the socket</div>
<div class="t" style="left:3.20px;top:1414.47px;font-size:20px;line-height:20px;font-family:'Liberation Sans';font-weight:bold;color:#000;">cover is securely in place.</div>
<div class="t" style="left:515.85px;top:492.74px;font-size:27px;line-height:27px;font-family:'Liberation Sans';font-weight:bold;color:#262626;transform:scaleX(0.5395);transform-origin:0 0;-webkit-text-stroke:0.5px #262626;">CAUTION:</div>
<div class="t" style="left:588.98px;top:497.26px;font-size:19.3px;line-height:19.3px;font-family:'Liberation Sans';font-weight:normal;color:#3c3c3c;transform:scaleX(0.5150);transform-origin:0 0;">TO REDUCE RISK OF FIRE,</div>
<div class="t" style="left:515.40px;top:518.56px;font-size:19.3px;line-height:19.3px;font-family:'Liberation Sans';font-weight:normal;color:#3c3c3c;transform:scaleX(0.5406);transform-origin:0 0;">USE</div>
<div class="t" style="left:540.25px;top:515.24px;font-size:27px;line-height:27px;font-family:'Liberation Sans';font-weight:bold;color:#262626;transform:scaleX(0.5522);transform-origin:0 0;-webkit-text-stroke:0.5px #262626;">MAX</div>
<div class="t" style="left:577.21px;top:518.26px;font-size:19.3px;line-height:19.3px;font-family:'Liberation Sans';font-weight:normal;color:#3c3c3c;transform:scaleX(0.5380);transform-origin:0 0;">100-WATT TYPE A</div>
<div class="t" style="left:528.86px;top:538.16px;font-size:19.3px;line-height:19.3px;font-family:'Liberation Sans';font-weight:normal;color:#3c3c3c;transform:scaleX(0.5289);transform-origin:0 0;">LAMP OR USE</div>
<div class="t" style="left:602.27px;top:534.54px;font-size:27px;line-height:27px;font-family:'Liberation Sans';font-weight:bold;color:#262626;transform:scaleX(0.5422);transform-origin:0 0;-webkit-text-stroke:0.5px #262626;">MAXIMUM</div>
<div class="t" style="left:676.77px;top:538.06px;font-size:19.3px;line-height:19.3px;font-family:'Liberation Sans';font-weight:normal;color:#3c3c3c;transform:scaleX(0.4935);transform-origin:0 0;">13-WATT</div>
<div class="t" style="left:515.83px;top:557.76px;font-size:19.3px;line-height:19.3px;font-family:'Liberation Sans';font-weight:normal;color:#3c3c3c;transform:scaleX(0.4165);transform-origin:0 0;">SELF-BALLASTED</div>
<div class="t" style="left:608.09px;top:557.26px;font-size:19.3px;line-height:19.3px;font-family:'Liberation Sans';font-weight:normal;color:#3c3c3c;transform:scaleX(0.4504);transform-origin:0 0;">LAMP OR LAMP ADAPTER,</div>
<div class="t" style="left:515.49px;top:574.66px;font-size:19.3px;line-height:19.3px;font-family:'Liberation Sans';font-weight:normal;color:#3c3c3c;transform:scaleX(0.4822);transform-origin:0 0;">120V 60Hz AC ONLY MADE IN CHINA E470839</div>
<div class="t" style="left:733.23px;top:492.54px;font-size:27px;line-height:27px;font-family:'Liberation Sans';font-weight:bold;color:#262626;transform:scaleX(0.4819);transform-origin:0 0;-webkit-text-stroke:0.5px #262626;">ATTENTION:</div>
<div class="t" style="left:811.78px;top:497.26px;font-size:19.3px;line-height:19.3px;font-family:'Liberation Sans';font-weight:normal;color:#3c3c3c;transform:scaleX(0.4673);transform-origin:0 0;">AFIN DE RÉDUIRELE RISQUE D'INCENDE,</div>
<div class="t" style="left:732.48px;top:518.16px;font-size:19.3px;line-height:19.3px;font-family:'Liberation Sans';font-weight:normal;color:#3c3c3c;transform:scaleX(0.5495);transform-origin:0 0;">UTILSERUNE</div>
<div class="t" style="left:801.04px;top:514.74px;font-size:27px;line-height:27px;font-family:'Liberation Sans';font-weight:bold;color:#262626;transform:scaleX(0.5608);transform-origin:0 0;-webkit-text-stroke:0.5px #262626;">MAX</div>
<div class="t" style="left:837.38px;top:518.16px;font-size:19.3px;line-height:19.3px;font-family:'Liberation Sans';font-weight:normal;color:#3c3c3c;transform:scaleX(0.5246);transform-origin:0 0;">AMPOULE TYPE A</div>
<div class="t" style="left:952.49px;top:518.16px;font-size:19.3px;line-height:19.3px;font-family:'Liberation Sans';font-weight:normal;color:#3c3c3c;transform:scaleX(0.5739);transform-origin:0 0;">DE 100</div>
<div class="t" style="left:733.26px;top:537.16px;font-size:19.3px;line-height:19.3px;font-family:'Liberation Sans';font-weight:normal;color:#3c3c3c;transform:scaleX(0.5287);transform-origin:0 0;">WATTS OU UTILISER UNE</div>
<div class="t" style="left:863.04px;top:533.04px;font-size:27px;line-height:27px;font-family:'Liberation Sans';font-weight:bold;color:#262626;transform:scaleX(0.5609);transform-origin:0 0;-webkit-text-stroke:0.5px #262626;">MAXIMUM</div>
<div class="t" style="left:939.42px;top:537.16px;font-size:19.3px;line-height:19.3px;font-family:'Liberation Sans';font-weight:normal;color:#3c3c3c;transform:scaleX(0.5304);transform-origin:0 0;">13 WATTS</div>
<div class="t" style="left:733.28px;top:555.86px;font-size:19.3px;line-height:19.3px;font-family:'Liberation Sans';font-weight:normal;color:#3c3c3c;transform:scaleX(0.5085);transform-origin:0 0;">AUTOBALLASTÉE</div>
<div class="t" style="left:832.69px;top:555.86px;font-size:19.3px;line-height:19.3px;font-family:'Liberation Sans';font-weight:normal;color:#3c3c3c;transform:scaleX(0.5139);transform-origin:0 0;">LAMPE OU LAMPE ADAPTATEUR.</div>
<div class="t" style="left:732.60px;top:574.46px;font-size:19.3px;line-height:19.3px;font-family:'Liberation Sans';font-weight:normal;color:#3c3c3c;transform:scaleX(0.4775);transform-origin:0 0;">120V 60Hz C.A.SEULEMENT FABRIQUÉ EN CHINE E470839</div>
<div class="t" style="left:546.28px;top:621.59px;font-size:43px;line-height:43px;font-family:'Liberation Serif';font-weight:bold;color:#1a1a1a;transform:scaleX(0.5823);transform-origin:0 0;">CAUTION: IMPORTANT SAFETY</div>
<div class="t" style="left:650.16px;top:678.49px;font-size:43px;line-height:43px;font-family:'Liberation Serif';font-weight:bold;color:#1a1a1a;transform:scaleX(0.5832);transform-origin:0 0;">INSTRUCTIONS</div>
<div class="j" style="left:511.60px;top:726.67px;width:482.6px;font-size:22px;line-height:22px;font-family:'Liberation Sans';font-weight:normal;color:#262626;"><span>This</span><span>portable</span><span>lamp</span><span>has</span><span>a</span><span>polarized</span><span>plug</span><span>(one</span></div>
<div class="j" style="left:511.60px;top:752.87px;width:482.6px;font-size:22px;line-height:22px;font-family:'Liberation Sans';font-weight:normal;color:#262626;"><span>blade</span><span>is</span><span>wider</span><span>than</span><span>the</span><span>other)</span><span>as</span><span>a</span><span>safety</span><span>feature</span></div>
<div class="j" style="left:511.60px;top:779.37px;width:482.6px;font-size:22px;line-height:22px;font-family:'Liberation Sans';font-weight:normal;color:#262626;"><span>to</span><span>reduce</span><span>the</span><span>risk</span><span>of</span><span>electric</span><span>shock.</span><span>This</span><span>plug</span><span>will</span><span>fit</span></div>
<div class="j" style="left:511.60px;top:805.67px;width:482.6px;font-size:22px;line-height:22px;font-family:'Liberation Sans';font-weight:normal;color:#262626;"><span>in</span><span>a</span><span>polarized</span><span>outlet</span><span>only</span><span>one</span><span>way.</span><span>If</span><span>the</span><span>plug</span><span>does</span></div>
<div class="j" style="left:511.60px;top:832.27px;width:482.6px;font-size:22px;line-height:22px;font-family:'Liberation Sans';font-weight:normal;color:#262626;"><span>not</span><span>fit</span><span>fully</span><span>in</span><span>the</span><span>outlet,</span><span>reverse</span><span>the</span><span>plug.</span><span>If</span><span>it</span><span>still</span></div>
<div class="j" style="left:511.60px;top:858.57px;width:482.6px;font-size:22px;line-height:22px;font-family:'Liberation Sans';font-weight:normal;color:#262626;"><span>does</span><span>not</span><span>fit,</span><span>contact</span><span>a</span><span>qualified</span><span>electrician.</span><span>Never</span></div>
<div class="j" style="left:511.60px;top:884.77px;width:482.6px;font-size:22px;line-height:22px;font-family:'Liberation Sans';font-weight:normal;color:#262626;"><span>use</span><span>with</span><span>an</span><span>extension</span><span>cord</span><span>unless</span><span>the</span><span>plug</span><span>can</span><span>be</span></div>
<div class="t" style="left:511.60px;top:911.27px;width:482.6px;font-size:22px;line-height:22px;font-family:'Liberation Sans';font-weight:normal;color:#262626;word-spacing:-1.2px;">fully inserted. Do not alter the plug.</div>
<div class="t" style="left:245.82px;top:14.18px;font-size:40.3px;line-height:40.3px;font-family:'Liberation Sans';font-weight:bold;color:#000;">ASSEMBLY INSTRUCTIONS</div>
<div class="t" style="left:345.07px;top:71.62px;font-size:26.9px;line-height:26.9px;font-family:'Liberation Sans';font-weight:bold;color:#000;">BXT-001/BXT-002/BXT-003</div>
<div class="t" style="left:493.00px;top:142.27px;font-size:20px;line-height:20px;font-family:'Liberation Sans';font-weight:bold;color:#262626;">(1) Carefully remove all parts from the box and remove</div>
<div class="t" style="left:493.00px;top:167.07px;font-size:20px;line-height:20px;font-family:'Liberation Sans';font-weight:bold;color:#262626;">any plastic coverings from the lamp components.</div>
<div class="t" style="left:493.00px;top:200.47px;font-size:20px;line-height:20px;font-family:'Liberation Sans';font-weight:bold;color:#262626;">(2) Place the Lamp Body (A) on the table.</div>
<div class="t" style="left:493.00px;top:233.07px;font-size:20px;line-height:20px;font-family:'Liberation Sans';font-weight:bold;color:#262626;">(3) Screw the Socket Assembly(B) onto the lamp</div>
<div class="t" style="left:493.00px;top:258.57px;font-size:20px;line-height:20px;font-family:'Liberation Sans';font-weight:bold;color:#262626;">body(A).</div>
<div class="t" style="left:493.00px;top:291.87px;font-size:20px;line-height:20px;font-family:'Liberation Sans';font-weight:bold;color:#262626;">(4) Attach the Harp(D) onto the Saddle(C).</div>
<div class="t" style="left:493.00px;top:329.07px;font-size:20px;line-height:20px;font-family:'Liberation Sans';font-weight:bold;color:#262626;">(5) Place the Shade(E) onto the Harp(D), and</div>
<div class="t" style="left:493.00px;top:366.17px;font-size:20px;line-height:20px;font-family:'Liberation Sans';font-weight:bold;color:#262626;">screw it with the Finial(F).</div>
<div class="t" style="left:493.00px;top:397.27px;font-size:20px;line-height:20px;font-family:'Liberation Sans';font-weight:bold;color:#262626;">Note:Bulb not included. Surya recommends using an</div>
<div class="t" style="left:493.00px;top:423.27px;font-size:20px;line-height:20px;font-family:'Liberation Sans';font-weight:bold;color:#262626;">LED bulb.</div>
<div class="t" style="left:37.30px;top:178.15px;font-size:28px;line-height:28px;font-family:'Liberation Serif';font-weight:normal;color:#121212;transform:scaleX(0.9306);transform-origin:0 0;-webkit-text-stroke:0.65px #121212;">F</div>
<div class="t" style="left:52.88px;top:178.15px;font-size:28px;line-height:28px;font-family:'Liberation Serif';font-weight:normal;color:#121212;transform:scaleX(1.1599);transform-origin:0 0;-webkit-text-stroke:0.65px #121212;">I</div>
<div class="t" style="left:64.52px;top:178.15px;font-size:28px;line-height:28px;font-family:'Liberation Serif';font-weight:normal;color:#121212;transform:scaleX(0.7778);transform-origin:0 0;-webkit-text-stroke:0.65px #121212;">N</div>
<div class="t" style="left:80.58px;top:178.15px;font-size:28px;line-height:28px;font-family:'Liberation Serif';font-weight:normal;color:#121212;transform:scaleX(1.1599);transform-origin:0 0;-webkit-text-stroke:0.65px #121212;">I</div>
<div class="t" style="left:92.53px;top:178.15px;font-size:28px;line-height:28px;font-family:'Liberation Serif';font-weight:normal;color:#121212;transform:scaleX(0.8104);transform-origin:0 0;-webkit-text-stroke:0.65px #121212;">A</div>
<div class="t" style="left:109.51px;top:178.15px;font-size:28px;line-height:28px;font-family:'Liberation Serif';font-weight:normal;color:#121212;transform:scaleX(0.6637);transform-origin:0 0;-webkit-text-stroke:0.65px #121212;">L</div>
<div class="t" style="left:124.55px;top:176.15px;font-size:28px;line-height:28px;font-family:'Liberation Serif';font-weight:normal;color:#121212;transform:scaleX(0.9317);transform-origin:0 0;-webkit-text-stroke:0.5px #121212;">(</div>
<div class="t" style="left:133.23px;top:178.15px;font-size:28px;line-height:28px;font-family:'Liberation Serif';font-weight:normal;color:#121212;transform:scaleX(1.0179);transform-origin:0 0;-webkit-text-stroke:0.65px #121212;">F</div>
<div class="t" style="left:150.13px;top:176.15px;font-size:28px;line-height:28px;font-family:'Liberation Serif';font-weight:normal;color:#121212;transform:scaleX(0.8482);transform-origin:0 0;-webkit-text-stroke:0.5px #121212;">)</div>
<div class="t" style="left:42.77px;top:302.35px;font-size:28px;line-height:28px;font-family:'Liberation Serif';font-weight:normal;color:#121212;transform:scaleX(0.8944);transform-origin:0 0;-webkit-text-stroke:0.65px #121212;">S</div>
<div class="t" style="left:56.46px;top:302.35px;font-size:28px;line-height:28px;font-family:'Liberation Serif';font-weight:normal;color:#121212;transform:scaleX(0.7314);transform-origin:0 0;-webkit-text-stroke:0.65px #121212;">H</div>
<div class="t" style="left:72.09px;top:302.35px;font-size:28px;line-height:28px;font-family:'Liberation Serif';font-weight:normal;color:#121212;transform:scaleX(0.6028);transform-origin:0 0;-webkit-text-stroke:0.65px #121212;">A</div>
<div class="t" style="left:86.19px;top:302.35px;font-size:28px;line-height:28px;font-family:'Liberation Serif';font-weight:normal;color:#121212;transform:scaleX(0.5740);transform-origin:0 0;-webkit-text-stroke:0.65px #121212;">D</div>
<div class="t" style="left:98.72px;top:302.35px;font-size:28px;line-height:28px;font-family:'Liberation Serif';font-weight:normal;color:#121212;transform:scaleX(0.7851);transform-origin:0 0;-webkit-text-stroke:0.65px #121212;">E</div>
<div class="t" style="left:118.22px;top:300.35px;font-size:28px;line-height:28px;font-family:'Liberation Serif';font-weight:normal;color:#121212;transform:scaleX(1.0429);transform-origin:0 0;-webkit-text-stroke:0.5px #121212;">(</div>
<div class="t" style="left:128.98px;top:302.35px;font-size:28px;line-height:28px;font-family:'Liberation Serif';font-weight:normal;color:#121212;transform:scaleX(0.7029);transform-origin:0 0;-webkit-text-stroke:0.65px #121212;">B</div>
<div class="t" style="left:142.42px;top:300.35px;font-size:28px;line-height:28px;font-family:'Liberation Serif';font-weight:normal;color:#121212;transform:scaleX(0.7509);transform-origin:0 0;-webkit-text-stroke:0.5px #121212;">)</div>
<div class="t" style="left:43.22px;top:488.35px;font-size:28px;line-height:28px;font-family:'Liberation Serif';font-weight:normal;color:#121212;transform:scaleX(0.6561);transform-origin:0 0;-webkit-text-stroke:0.65px #121212;">H</div>
<div class="t" style="left:57.28px;top:488.35px;font-size:28px;line-height:28px;font-family:'Liberation Serif';font-weight:normal;color:#121212;transform:scaleX(0.6180);transform-origin:0 0;-webkit-text-stroke:0.65px #121212;">A</div>
<div class="t" style="left:70.60px;top:488.35px;font-size:28px;line-height:28px;font-family:'Liberation Serif';font-weight:normal;color:#121212;transform:scaleX(0.6843);transform-origin:0 0;-webkit-text-stroke:0.65px #121212;">R</div>
<div class="t" style="left:84.13px;top:488.35px;font-size:28px;line-height:28px;font-family:'Liberation Serif';font-weight:normal;color:#121212;transform:scaleX(0.8941);transform-origin:0 0;-webkit-text-stroke:0.65px #121212;">P</div>
<div class="t" style="left:102.33px;top:486.35px;font-size:28px;line-height:28px;font-family:'Liberation Serif';font-weight:normal;color:#121212;transform:scaleX(1.1124);transform-origin:0 0;-webkit-text-stroke:0.5px #121212;">(</div>
<div class="t" style="left:112.51px;top:488.35px;font-size:28px;line-height:28px;font-family:'Liberation Serif';font-weight:normal;color:#121212;transform:scaleX(0.6669);transform-origin:0 0;-webkit-text-stroke:0.65px #121212;">D</div>
<div class="t" style="left:126.10px;top:486.35px;font-size:28px;line-height:28px;font-family:'Liberation Serif';font-weight:normal;color:#121212;transform:scaleX(1.1124);transform-origin:0 0;-webkit-text-stroke:0.5px #121212;">)</div>
<div class="t" style="left:45.13px;top:576.45px;font-size:28px;line-height:28px;font-family:'Liberation Serif';font-weight:normal;color:#121212;transform:scaleX(1.0254);transform-origin:0 0;-webkit-text-stroke:0.65px #121212;">S</div>
<div class="t" style="left:60.65px;top:576.45px;font-size:28px;line-height:28px;font-family:'Liberation Serif';font-weight:normal;color:#121212;transform:scaleX(0.6213);transform-origin:0 0;-webkit-text-stroke:0.65px #121212;">A</div>
<div class="t" style="left:74.04px;top:576.45px;font-size:28px;line-height:28px;font-family:'Liberation Serif';font-weight:normal;color:#121212;transform:scaleX(0.6706);transform-origin:0 0;-webkit-text-stroke:0.65px #121212;">D</div>
<div class="t" style="left:87.81px;top:576.45px;font-size:28px;line-height:28px;font-family:'Liberation Serif';font-weight:normal;color:#121212;transform:scaleX(0.6706);transform-origin:0 0;-webkit-text-stroke:0.65px #121212;">D</div>
<div class="t" style="left:101.44px;top:576.45px;font-size:28px;line-height:28px;font-family:'Liberation Serif';font-weight:normal;color:#121212;transform:scaleX(0.8393);transform-origin:0 0;-webkit-text-stroke:0.65px #121212;">L</div>
<div class="t" style="left:115.22px;top:576.45px;font-size:28px;line-height:28px;font-family:'Liberation Serif';font-weight:normal;color:#121212;transform:scaleX(0.8231);transform-origin:0 0;-webkit-text-stroke:0.65px #121212;">E</div>
<div class="t" style="left:133.40px;top:574.45px;font-size:28px;line-height:28px;font-family:'Liberation Serif';font-weight:normal;color:#121212;transform:scaleX(0.9734);transform-origin:0 0;-webkit-text-stroke:0.5px #121212;">(</div>
<div class="t" style="left:142.90px;top:576.45px;font-size:28px;line-height:28px;font-family:'Liberation Serif';font-weight:normal;color:#121212;transform:scaleX(0.8259);transform-origin:0 0;-webkit-text-stroke:0.65px #121212;">C</div>
<div class="t" style="left:157.82px;top:574.45px;font-size:28px;line-height:28px;font-family:'Liberation Serif';font-weight:normal;color:#121212;transform:scaleX(0.9734);transform-origin:0 0;-webkit-text-stroke:0.5px #121212;">)</div>
<div class="t" style="left:27.73px;top:625.15px;font-size:28px;line-height:28px;font-family:'Liberation Serif';font-weight:normal;color:#121212;transform:scaleX(0.9195);transform-origin:0 0;-webkit-text-stroke:0.65px #121212;">S</div>
<div class="t" style="left:42.16px;top:625.15px;font-size:28px;line-height:28px;font-family:'Liberation Serif';font-weight:normal;color:#121212;transform:scaleX(0.6862);transform-origin:0 0;-webkit-text-stroke:0.65px #121212;">O</div>
<div class="t" style="left:55.88px;top:625.15px;font-size:28px;line-height:28px;font-family:'Liberation Serif';font-weight:normal;color:#121212;transform:scaleX(0.7571);transform-origin:0 0;-webkit-text-stroke:0.65px #121212;">C</div>
<div class="t" style="left:69.61px;top:625.15px;font-size:28px;line-height:28px;font-family:'Liberation Serif';font-weight:normal;color:#121212;transform:scaleX(0.6640);transform-origin:0 0;-webkit-text-stroke:0.65px #121212;">K</div>
<div class="t" style="left:83.73px;top:625.15px;font-size:28px;line-height:28px;font-family:'Liberation Serif';font-weight:normal;color:#121212;transform:scaleX(0.7717);transform-origin:0 0;-webkit-text-stroke:0.65px #121212;">E</div>
<div class="t" style="left:96.76px;top:625.15px;font-size:28px;line-height:28px;font-family:'Liberation Serif';font-weight:normal;color:#121212;transform:scaleX(0.7748);transform-origin:0 0;-webkit-text-stroke:0.65px #121212;">T</div>
<div class="t" style="left:126.08px;top:625.15px;font-size:28px;line-height:28px;font-family:'Liberation Serif';font-weight:normal;color:#121212;transform:scaleX(0.6262);transform-origin:0 0;-webkit-text-stroke:0.65px #121212;">A</div>
<div class="t" style="left:138.18px;top:625.15px;font-size:28px;line-height:28px;font-family:'Liberation Serif';font-weight:normal;color:#121212;transform:scaleX(1.0334);transform-origin:0 0;-webkit-text-stroke:0.65px #121212;">S</div>
<div class="t" style="left:152.04px;top:625.15px;font-size:28px;line-height:28px;font-family:'Liberation Serif';font-weight:normal;color:#121212;transform:scaleX(1.0334);transform-origin:0 0;-webkit-text-stroke:0.65px #121212;">S</div>
<div class="t" style="left:167.17px;top:625.15px;font-size:28px;line-height:28px;font-family:'Liberation Serif';font-weight:normal;color:#121212;transform:scaleX(0.8296);transform-origin:0 0;-webkit-text-stroke:0.65px #121212;">E</div>
<div class="t" style="left:181.27px;top:625.15px;font-size:28px;line-height:28px;font-family:'Liberation Serif';font-weight:normal;color:#121212;transform:scaleX(0.5313);transform-origin:0 0;-webkit-text-stroke:0.65px #121212;">M</div>
<div class="t" style="left:194.96px;top:625.15px;font-size:28px;line-height:28px;font-family:'Liberation Serif';font-weight:normal;color:#121212;transform:scaleX(0.7492);transform-origin:0 0;-webkit-text-stroke:0.65px #121212;">B</div>
<div class="t" style="left:208.74px;top:625.15px;font-size:28px;line-height:28px;font-family:'Liberation Serif';font-weight:normal;color:#121212;transform:scaleX(0.8459);transform-origin:0 0;-webkit-text-stroke:0.65px #121212;">L</div>
<div class="t" style="left:223.08px;top:625.15px;font-size:28px;line-height:28px;font-family:'Liberation Serif';font-weight:normal;color:#121212;transform:scaleX(0.6440);transform-origin:0 0;-webkit-text-stroke:0.65px #121212;">Y</div>
<div class="t" style="left:239.63px;top:623.15px;font-size:28px;line-height:28px;font-family:'Liberation Serif';font-weight:normal;color:#121212;transform:scaleX(1.1959);transform-origin:0 0;-webkit-text-stroke:0.5px #121212;">(</div>
<div class="t" style="left:250.96px;top:625.15px;font-size:28px;line-height:28px;font-family:'Liberation Serif';font-weight:normal;color:#121212;transform:scaleX(0.8544);transform-origin:0 0;-webkit-text-stroke:0.65px #121212;">B</div>
<div class="t" style="left:266.92px;top:623.15px;font-size:28px;line-height:28px;font-family:'Liberation Serif';font-weight:normal;color:#121212;transform:scaleX(0.8621);transform-origin:0 0;-webkit-text-stroke:0.5px #121212;">)</div>
<div class="t" style="left:28.29px;top:711.95px;font-size:28px;line-height:28px;font-family:'Liberation Serif';font-weight:normal;color:#121212;transform:scaleX(0.8194);transform-origin:0 0;-webkit-text-stroke:0.65px #121212;">L</div>
<div class="t" style="left:42.26px;top:711.95px;font-size:28px;line-height:28px;font-family:'Liberation Serif';font-weight:normal;color:#121212;transform:scaleX(0.6066);transform-origin:0 0;-webkit-text-stroke:0.65px #121212;">A</div>
<div class="t" style="left:55.48px;top:711.95px;font-size:28px;line-height:28px;font-family:'Liberation Serif';font-weight:normal;color:#121212;transform:scaleX(0.5146);transform-origin:0 0;-webkit-text-stroke:0.65px #121212;">M</div>
<div class="t" style="left:68.67px;top:711.95px;font-size:28px;line-height:28px;font-family:'Liberation Serif';font-weight:normal;color:#121212;transform:scaleX(0.8776);transform-origin:0 0;-webkit-text-stroke:0.65px #121212;">P</div>
<div class="t" style="left:97.13px;top:711.95px;font-size:28px;line-height:28px;font-family:'Liberation Serif';font-weight:normal;color:#121212;transform:scaleX(0.7651);transform-origin:0 0;-webkit-text-stroke:0.65px #121212;">B</div>
<div class="t" style="left:111.07px;top:711.95px;font-size:28px;line-height:28px;font-family:'Liberation Serif';font-weight:normal;color:#121212;transform:scaleX(0.7044);transform-origin:0 0;-webkit-text-stroke:0.65px #121212;">O</div>
<div class="t" style="left:125.44px;top:711.95px;font-size:28px;line-height:28px;font-family:'Liberation Serif';font-weight:normal;color:#121212;transform:scaleX(0.6902);transform-origin:0 0;-webkit-text-stroke:0.65px #121212;">D</div>
<div class="t" style="left:139.92px;top:711.95px;font-size:28px;line-height:28px;font-family:'Liberation Serif';font-weight:normal;color:#121212;transform:scaleX(0.6577);transform-origin:0 0;-webkit-text-stroke:0.65px #121212;">Y</div>
<div class="t" style="left:155.38px;top:709.95px;font-size:28px;line-height:28px;font-family:'Liberation Serif';font-weight:normal;color:#121212;transform:scaleX(1.1542);transform-origin:0 0;-webkit-text-stroke:0.5px #121212;">(</div>
<div class="t" style="left:166.04px;top:711.95px;font-size:28px;line-height:28px;font-family:'Liberation Serif';font-weight:normal;color:#121212;transform:scaleX(0.7649);transform-origin:0 0;-webkit-text-stroke:0.65px #121212;">A</div>
<div class="t" style="left:182.57px;top:709.95px;font-size:28px;line-height:28px;font-family:'Liberation Serif';font-weight:normal;color:#121212;transform:scaleX(0.9178);transform-origin:0 0;-webkit-text-stroke:0.5px #121212;">)</div>
<div class="t" style="left:3.00px;top:886.32px;font-size:18.4px;line-height:18.4px;font-family:'Liberation Sans';font-weight:bold;color:#333;">NOTE</div>
<div class="t" style="left:79.59px;top:886.15px;font-size:18.6px;line-height:18.6px;font-family:'Liberation Sans';font-weight:bold;color:#333;">The drawing of the lamp</div>
<div class="t" style="left:3.00px;top:911.85px;font-size:18.6px;line-height:18.6px;font-family:'Liberation Sans';font-weight:bold;color:#333;">body is for reference only.</div>
<div class="t" style="left:3.20px;top:937.39px;font-size:18.2px;line-height:18.2px;font-family:'Liberation Sans';font-weight:bold;color:#000;">Made In China</div>
<div class="t" style="left:3.20px;top:1013.57px;font-size:20px;line-height:20px;font-family:'Liberation Sans';font-weight:bold;color:#000;">Dear Customer,</div>
<div class="t" style="left:3.20px;top:1055.97px;font-size:20px;line-height:20px;font-family:'Liberation Sans';font-weight:bold;color:#000;">Thank you for purchasing this quality lamp. It has been manufactured to meet the highest quality</div>
<div class="t" style="left:3.20px;top:1090.77px;font-size:20px;line-height:20px;font-family:'Liberation Sans';font-weight:bold;color:#000;">standards. Please read carefully the following precautions before using this lamp:</div>
<div class="t" style="left:3.20px;top:1127.07px;font-size:20px;line-height:20px;font-family:'Liberation Sans';font-weight:bold;color:#000;">• When unpacking and assembling, avoid pulling on the wire too forcefully to prevent disconnection.</div>
<div class="t" style="left:3.20px;top:1158.17px;font-size:20px;line-height:20px;font-family:'Liberation Sans';font-weight:bold;color:#000;">• Use only the bulb and wattage specified in these instructions or as indicated on the label attached to the</div>
<div class="t" style="left:3.20px;top:1183.97px;font-size:20px;line-height:20px;font-family:'Liberation Sans';font-weight:bold;color:#000;">socket.</div>
<div class="t" style="left:3.20px;top:1214.97px;font-size:20px;line-height:20px;font-family:'Liberation Sans';font-weight:bold;color:#000;">• Do not replace the bulb while the lamp is plugged into an electrical outlet.</div>
<div class="t" style="left:3.20px;top:1250.17px;font-size:20px;line-height:20px;font-family:'Liberation Sans';font-weight:bold;color:#000;">• Avoid using the lamp outdoors, near water, or other liquids.</div>
<div class="t" style="left:3.20px;top:1286.17px;font-size:20px;line-height:20px;font-family:'Liberation Sans';font-weight:bold;color:#000;">• Unplug the lamp from the outlet before cleaning or removing any parts.</div>
<div class="t" style="left:3.20px;top:1321.97px;font-size:20px;line-height:20px;font-family:'Liberation Sans';font-weight:bold;color:#000;">• Use a soft cloth for cleaning. Avoid using chemicals or abrasive cleaners.</div>
<div class="t" style="left:3.20px;top:1357.67px;font-size:20px;line-height:20px;font-family:'Liberation Sans';font-weight:bold;color:#000;">• Remove the cellophane cover from the shade before using the lamp.</div>
<div class="t" style="left:3.20px;top:1388.77px;font-size:20px;line-height:20px;font-family:'Liberation Sans';font-weight:bold;color:#000;">• During shipment, the socket cover may have become loose. Before inserting the bulb, ensure the socket</div>
<div class="t" style="left:3.20px;top:1414.47px;font-size:20px;line-height:20px;font-family:'Liberation Sans';font-weight:bold;color:#000;">cover is securely in place.</div>
<div class="t" style="left:515.85px;top:492.74px;font-size:27px;line-height:27px;font-family:'Liberation Sans';font-weight:bold;color:#262626;transform:scaleX(0.5395);transform-origin:0 0;-webkit-text-stroke:0.5px #262626;">CAUTION:</div>
<div class="t" style="left:588.98px;top:497.26px;font-size:19.3px;line-height:19.3px;font-family:'Liberation Sans';font-weight:normal;color:#3c3c3c;transform:scaleX(0.5150);transform-origin:0 0;">TO REDUCE RISK OF FIRE,</div>
<div class="t" style="left:515.40px;top:518.56px;font-size:19.3px;line-height:19.3px;font-family:'Liberation Sans';font-weight:normal;color:#3c3c3c;transform:scaleX(0.5406);transform-origin:0 0;">USE</div>
<div class="t" style="left:540.25px;top:515.24px;font-size:27px;line-height:27px;font-family:'Liberation Sans';font-weight:bold;color:#262626;transform:scaleX(0.5522);transform-origin:0 0;-webkit-text-stroke:0.5px #262626;">MAX</div>
<div class="t" style="left:577.21px;top:518.26px;font-size:19.3px;line-height:19.3px;font-family:'Liberation Sans';font-weight:normal;color:#3c3c3c;transform:scaleX(0.5380);transform-origin:0 0;">100-WATT TYPE A</div>
<div class="t" style="left:528.86px;top:538.16px;font-size:19.3px;line-height:19.3px;font-family:'Liberation Sans';font-weight:normal;color:#3c3c3c;transform:scaleX(0.5289);transform-origin:0 0;">LAMP OR USE</div>
<div class="t" style="left:602.27px;top:534.54px;font-size:27px;line-height:27px;font-family:'Liberation Sans';font-weight:bold;color:#262626;transform:scaleX(0.5422);transform-origin:0 0;-webkit-text-stroke:0.5px #262626;">MAXIMUM</div>
<div class="t" style="left:676.77px;top:538.06px;font-size:19.3px;line-height:19.3px;font-family:'Liberation Sans';font-weight:normal;color:#3c3c3c;transform:scaleX(0.4935);transform-origin:0 0;">13-WATT</div>
<div class="t" style="left:515.83px;top:557.76px;font-size:19.3px;line-height:19.3px;font-family:'Liberation Sans';font-weight:normal;color:#3c3c3c;transform:scaleX(0.4165);transform-origin:0 0;">SELF-BALLASTED</div>
<div class="t" style="left:608.09px;top:557.26px;font-size:19.3px;line-height:19.3px;font-family:'Liberation Sans';font-weight:normal;color:#3c3c3c;transform:scaleX(0.4504);transform-origin:0 0;">LAMP OR LAMP ADAPTER,</div>
<div class="t" style="left:515.49px;top:574.66px;font-size:19.3px;line-height:19.3px;font-family:'Liberation Sans';font-weight:normal;color:#3c3c3c;transform:scaleX(0.4822);transform-origin:0 0;">120V 60Hz AC ONLY MADE IN CHINA E470839</div>
<div class="t" style="left:733.23px;top:492.54px;font-size:27px;line-height:27px;font-family:'Liberation Sans';font-weight:bold;color:#262626;transform:scaleX(0.4819);transform-origin:0 0;-webkit-text-stroke:0.5px #262626;">ATTENTION:</div>
<div class="t" style="left:811.78px;top:497.26px;font-size:19.3px;line-height:19.3px;font-family:'Liberation Sans';font-weight:normal;color:#3c3c3c;transform:scaleX(0.4673);transform-origin:0 0;">AFIN DE RÉDUIRELE RISQUE D'INCENDE,</div>
<div class="t" style="left:732.48px;top:518.16px;font-size:19.3px;line-height:19.3px;font-family:'Liberation Sans';font-weight:normal;color:#3c3c3c;transform:scaleX(0.5495);transform-origin:0 0;">UTILSERUNE</div>
<div class="t" style="left:801.04px;top:514.74px;font-size:27px;line-height:27px;font-family:'Liberation Sans';font-weight:bold;color:#262626;transform:scaleX(0.5608);transform-origin:0 0;-webkit-text-stroke:0.5px #262626;">MAX</div>
<div class="t" style="left:837.38px;top:518.16px;font-size:19.3px;line-height:19.3px;font-family:'Liberation Sans';font-weight:normal;color:#3c3c3c;transform:scaleX(0.5246);transform-origin:0 0;">AMPOULE TYPE A</div>
<div class="t" style="left:952.49px;top:518.16px;font-size:19.3px;line-height:19.3px;font-family:'Liberation Sans';font-weight:normal;color:#3c3c3c;transform:scaleX(0.5739);transform-origin:0 0;">DE 100</div>
<div class="t" style="left:733.26px;top:537.16px;font-size:19.3px;line-height:19.3px;font-family:'Liberation Sans';font-weight:normal;color:#3c3c3c;transform:scaleX(0.5287);transform-origin:0 0;">WATTS OU UTILISER UNE</div>
<div class="t" style="left:863.04px;top:533.04px;font-size:27px;line-height:27px;font-family:'Liberation Sans';font-weight:bold;color:#262626;transform:scaleX(0.5609);transform-origin:0 0;-webkit-text-stroke:0.5px #262626;">MAXIMUM</div>
<div class="t" style="left:939.42px;top:537.16px;font-size:19.3px;line-height:19.3px;font-family:'Liberation Sans';font-weight:normal;color:#3c3c3c;transform:scaleX(0.5304);transform-origin:0 0;">13 WATTS</div>
<div class="t" style="left:733.28px;top:555.86px;font-size:19.3px;line-height:19.3px;font-family:'Liberation Sans';font-weight:normal;color:#3c3c3c;transform:scaleX(0.5085);transform-origin:0 0;">AUTOBALLASTÉE</div>
<div class="t" style="left:832.69px;top:555.86px;font-size:19.3px;line-height:19.3px;font-family:'Liberation Sans';font-weight:normal;color:#3c3c3c;transform:scaleX(0.5139);transform-origin:0 0;">LAMPE OU LAMPE ADAPTATEUR.</div>
<div class="t" style="left:732.60px;top:574.46px;font-size:19.3px;line-height:19.3px;font-family:'Liberation Sans';font-weight:normal;color:#3c3c3c;transform:scaleX(0.4775);transform-origin:0 0;">120V 60Hz C.A.SEULEMENT FABRIQUÉ EN CHINE E470839</div>
<div class="t" style="left:546.28px;top:621.59px;font-size:43px;line-height:43px;font-family:'Liberation Serif';font-weight:bold;color:#1a1a1a;transform:scaleX(0.5823);transform-origin:0 0;">CAUTION: IMPORTANT SAFETY</div>
<div class="t" style="left:650.16px;top:678.49px;font-size:43px;line-height:43px;font-family:'Liberation Serif';font-weight:bold;color:#1a1a1a;transform:scaleX(0.5832);transform-origin:0 0;">INSTRUCTIONS</div>
<div class="j" style="left:511.60px;top:726.67px;width:482.6px;font-size:22px;line-height:22px;font-family:'Liberation Sans';font-weight:normal;color:#262626;"><span>This</span><span>portable</span><span>lamp</span><span>has</span><span>a</span><span>polarized</span><span>plug</span><span>(one</span></div>
<div class="j" style="left:511.60px;top:752.87px;width:482.6px;font-size:22px;line-height:22px;font-family:'Liberation Sans';font-weight:normal;color:#262626;"><span>blade</span><span>is</span><span>wider</span><span>than</span><span>the</span><span>other)</span><span>as</span><span>a</span><span>safety</span><span>feature</span></div>
<div class="j" style="left:511.60px;top:779.37px;width:482.6px;font-size:22px;line-height:22px;font-family:'Liberation Sans';font-weight:normal;color:#262626;"><span>to</span><span>reduce</span><span>the</span><span>risk</span><span>of</span><span>electric</span><span>shock.</span><span>This</span><span>plug</span><span>will</span><span>fit</span></div>
<div class="j" style="left:511.60px;top:805.67px;width:482.6px;font-size:22px;line-height:22px;font-family:'Liberation Sans';font-weight:normal;color:#262626;"><span>in</span><span>a</span><span>polarized</span><span>outlet</span><span>only</span><span>one</span><span>way.</span><span>If</span><span>the</span><span>plug</span><span>does</span></div>
<div class="j" style="left:511.60px;top:832.27px;width:482.6px;font-size:22px;line-height:22px;font-family:'Liberation Sans';font-weight:normal;color:#262626;"><span>not</span><span>fit</span><span>fully</span><span>in</span><span>the</span><span>outlet,</span><span>reverse</span><span>the</span><span>plug.</span><span>If</span><span>it</span><span>still</span></div>
<div class="j" style="left:511.60px;top:858.57px;width:482.6px;font-size:22px;line-height:22px;font-family:'Liberation Sans';font-weight:normal;color:#262626;"><span>does</span><span>not</span><span>fit,</span><span>contact</span><span>a</span><span>qualified</span><span>electrician.</span><span>Never</span></div>
<div class="j" style="left:511.60px;top:884.77px;width:482.6px;font-size:22px;line-height:22px;font-family:'Liberation Sans';font-weight:normal;color:#262626;"><span>use</span><span>with</span><span>an</span><span>extension</span><span>cord</span><span>unless</span><span>the</span><span>plug</span><span>can</span><span>be</span></div>
<div class="t" style="left:511.60px;top:911.27px;width:482.6px;font-size:22px;line-height:22px;font-family:'Liberation Sans';font-weight:normal;color:#262626;word-spacing:-1.2px;">fully inserted. Do not alter the plug.</div>
</body></html>
